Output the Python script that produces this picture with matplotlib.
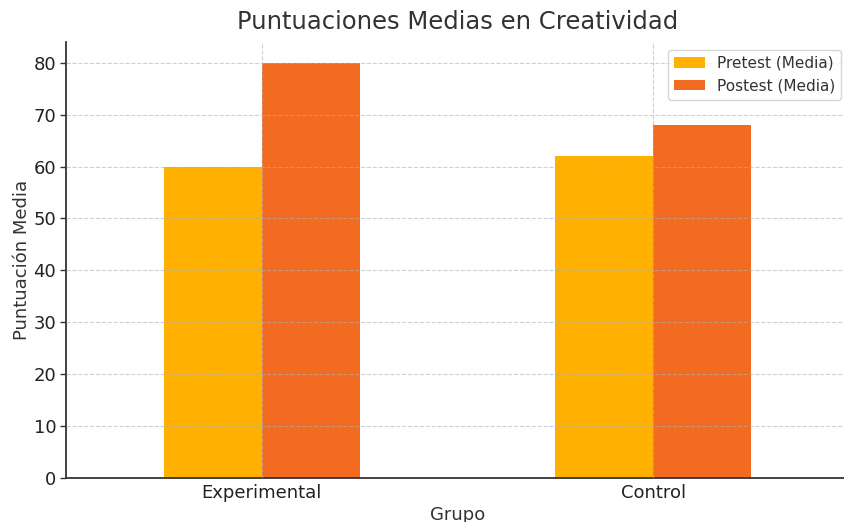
import matplotlib
matplotlib.use("Agg")
import matplotlib.pyplot as plt
import numpy as np

plt.rcParams["font.family"] = ["DejaVu Sans"]

groups = ["Experimental", "Control"]
pretest = [60, 62]
postest = [80, 68]
series_labels = ["Pretest (Media)", "Postest (Media)"]
colors = ["#FFB000", "#F26B21"]

fig = plt.figure(figsize=(8.45, 5.22), dpi=100)
ax = fig.add_axes([66/845, 1-478/522, (849-66)/845, (478-42)/522])

x = np.arange(len(groups))
w = 0.25
ax.bar(x - w/2, pretest, w, color=colors[0], label=series_labels[0], zorder=1)
ax.bar(x + w/2, postest, w, color=colors[1], label=series_labels[1], zorder=1)

ax.set_xlim(-0.5, 1.5)
ax.set_ylim(0, 84)
ax.set_yticks(range(0, 81, 10))
ax.set_xticks(x)
ax.set_xticklabels(groups)

ax.grid(True, linestyle="--", color="#b0b0b0", alpha=0.6, linewidth=0.8, zorder=3)
ax.set_axisbelow(False)

for s in ["top", "right"]:
    ax.spines[s].set_visible(False)
for s in ["left", "bottom"]:
    ax.spines[s].set_color("#333333")
    ax.spines[s].set_linewidth(1.3)

ax.tick_params(axis="y", labelsize=13, colors="#333333", labelcolor="#222222", length=4, width=1, pad=3)
ax.tick_params(axis="x", labelsize=13, colors="#333333", labelcolor="#222222", length=0, pad=4)
ax.set_title("Puntuaciones Medias en Creatividad", fontsize=17.5, color="#333333", pad=9)
ax.set_xlabel("Grupo", fontsize=13, color="#333333", labelpad=3)
ax.set_ylabel("Puntuación Media", fontsize=13, color="#333333", labelpad=2)

leg = ax.legend(loc="upper right", fontsize=11, frameon=True, fancybox=True)
leg.get_frame().set_edgecolor("#cccccc")
for t in leg.get_texts():
    t.set_color("#333333")

fig.savefig("out.png", dpi=100)
